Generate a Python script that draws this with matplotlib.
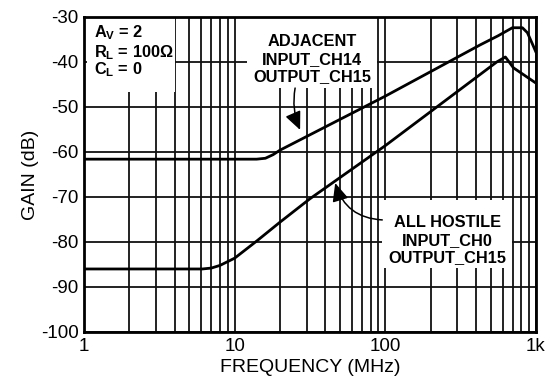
import matplotlib
matplotlib.use("Agg")
import matplotlib.pyplot as plt
from matplotlib.patches import Rectangle
from matplotlib.ticker import FixedLocator, FixedFormatter, NullFormatter, LogLocator

plt.rcParams['font.family'] = ['Liberation Sans', 'DejaVu Sans']
plt.rcParams['axes.unicode_minus'] = False
plt.rcParams['mathtext.fontset'] = 'custom'
plt.rcParams['mathtext.rm'] = 'Liberation Sans:bold'
plt.rcParams['mathtext.bf'] = 'Liberation Sans:bold'
plt.rcParams['mathtext.default'] = 'bf'

# crosstalk curves (MHz, dB)
freq_adj = [1, 14, 16, 18, 20, 100, 427, 560, 698, 813, 878, 962, 1000]
gain_adj = [-61.6, -61.6, -61.4, -60.6, -59.6, -47.6, -36.2, -34.2, -32.4, -32.4, -33.5, -36.5, -37.8]

freq_host = [1, 6.1, 7, 8, 10, 14, 20, 31.6, 100, 550, 627, 709, 1000]
gain_host = [-86, -86, -85.8, -85.2, -83.6, -79.8, -75.6, -70.4, -58.6, -40.0, -38.9, -41.3, -44.7]

x_ticks = [1, 10, 100, 1000]
x_labels = ['1', '10', '100', '1k']
y_ticks = [-100, -90, -80, -70, -60, -50, -40, -30]

fig = plt.figure(figsize=(5.6, 3.85), dpi=100)
ax = fig.add_axes([0.15, 0.1377, 0.807, 0.8183])

ax.set_xscale('log')
ax.set_xlim(1, 1000)
ax.set_ylim(-100, -30)

ax.xaxis.set_major_locator(FixedLocator(x_ticks))
ax.xaxis.set_major_formatter(FixedFormatter(x_labels))
ax.xaxis.set_minor_locator(LogLocator(base=10, subs=range(2, 10)))
ax.xaxis.set_minor_formatter(NullFormatter())
ax.yaxis.set_major_locator(FixedLocator(y_ticks))

ax.grid(True, which='both', axis='x', color='#111111', linewidth=1.3, zorder=0)
ax.grid(True, which='major', axis='y', color='#111111', linewidth=1.3, zorder=0)
ax.set_axisbelow(True)
ax.tick_params(which='both', length=0, labelsize=13.5)
ax.tick_params(axis='x', pad=4)
ax.tick_params(axis='y', pad=4)
for s in ax.spines.values():
    s.set_linewidth(2.0)
    s.set_zorder(5)

ax.plot(freq_adj, gain_adj, color='black', linewidth=2.0, zorder=4)
ax.plot(freq_host, gain_host, color='black', linewidth=2.0, zorder=4)

ax.set_xlabel('FREQUENCY (MHz)', fontsize=14, labelpad=3)
ax.set_ylabel('GAIN (dB)', fontsize=14, labelpad=1)

# white label boxes hiding the grid
for (x0, x1, y0, y1) in [(1.05, 4.02, -46.7, -30.2),
                         (12.1, 88.5, -45.8, -30.2),
                         (95.5, 698, -85.8, -70.7)]:
    ax.add_patch(Rectangle((x0, y0), x1 - x0, y1 - y0, facecolor='white',
                           edgecolor='none', zorder=2))

cond_style = dict(fontsize=11.8, fontweight='bold', ha='left', va='center', zorder=6)
ax.text(1.17, -33.6, r'A$_V$ = 2', **cond_style)
ax.text(1.17, -38.0, r'R$_L$ = 100$\Omega$', **cond_style)
ax.text(1.17, -41.8, r'C$_L$ = 0', **cond_style)

ax.text(32.7, -39.4, 'ADJACENT\nINPUT_CH14\nOUTPUT_CH15', fontsize=11.8,
        fontweight='bold', ha='center', va='center', linespacing=1.2, zorder=6)
ax.text(258, -79.6, 'ALL HOSTILE\nINPUT_CH0\nOUTPUT_CH15', fontsize=11.8,
        fontweight='bold', ha='center', va='center', linespacing=1.2, zorder=6)

arrow = dict(arrowstyle='-|>,head_length=0.85,head_width=0.38', color='black',
             linewidth=1.1, shrinkA=0, shrinkB=0, mutation_scale=13)
ax.annotate('', xy=(27.2, -55.1), xytext=(25.2, -45.8),
            arrowprops=dict(connectionstyle='arc3,rad=0.15', **arrow), zorder=6)
ax.annotate('', xy=(46.5, -66.9), xytext=(95.5, -75.1),
            arrowprops=dict(connectionstyle='arc3,rad=-0.35', **arrow), zorder=6)

fig.savefig('out.png', dpi=100)
